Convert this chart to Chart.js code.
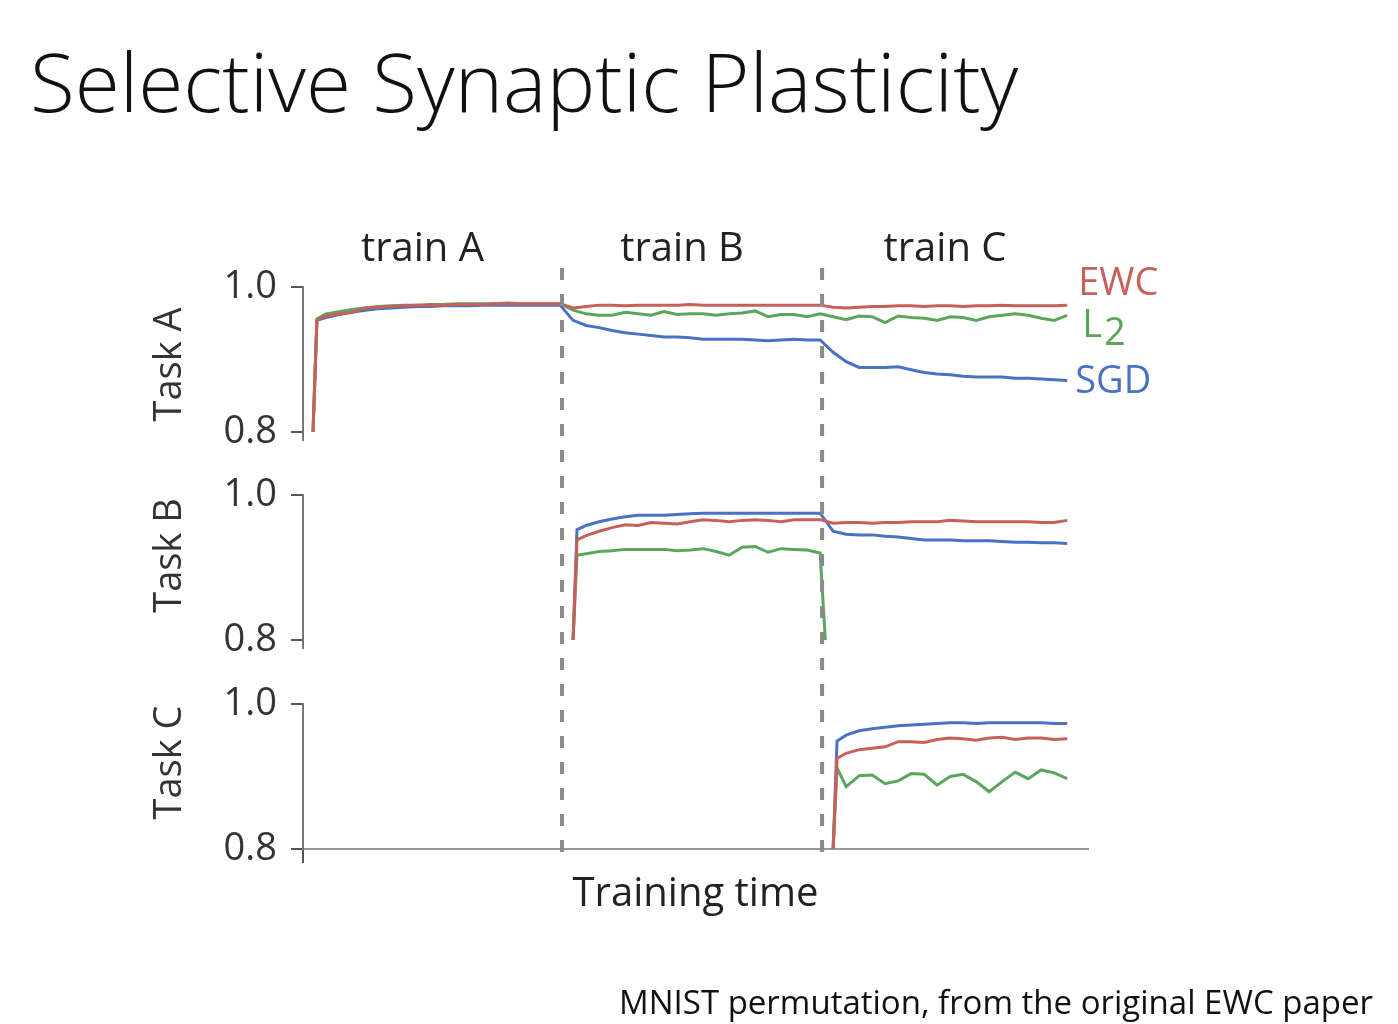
<!DOCTYPE html>
<html>
<head>
<meta charset="utf-8">
<title>Selective Synaptic Plasticity</title>
<script src="https://cdn.jsdelivr.net/npm/chart.js@4.4.0/dist/chart.umd.min.js"></script>
<style>
    body { margin: 0; background: #fff; width: 1398px; height: 1024px; overflow: hidden; position: relative; font-family: 'Open Sans', sans-serif; }
    #titulo { position: absolute; left: 30px; top: 39px; font-size: 82px; line-height: 82px; font-weight: 300; color: #111; white-space: nowrap; }
    #pie { position: absolute; right: 25px; top: 985px; font-size: 33px; line-height: 33px; color: #111; white-space: nowrap; }
    #grafica { position: absolute; left: 0; top: 0; }
</style>
</head>
<body>
<div id="titulo">Selective Synaptic Plasticity</div>
<canvas id="grafica" width="1398" height="1024"></canvas>
<div id="pie">MNIST permutation, from the original EWC paper</div>

<script>
// 1. DATOS
const phaseNames = ['train A', 'train B', 'train C'];
const phaseEdges = [19.15, 39.15];
const taskNames = ['Task A', 'Task B', 'Task C'];
const yTicks = [0.8, 1.0];

const stepsA = [0, 0.3, 1, 2, 3, 4, 5, 6, 7, 8, 9, 10, 11, 12, 13, 14, 15, 16, 17, 18, 19,
    20, 21, 22, 23, 24, 25, 26, 27, 28, 29, 30, 31, 32, 33, 34, 35, 36, 37, 38, 39,
    40, 41, 42, 43, 44, 45, 46, 47, 48, 49, 50, 51, 52, 53, 54, 55, 56, 57, 58];
const stepsB = [20, 20.3, 21, 22, 23, 24, 25, 26, 27, 28, 29, 30, 31, 32, 33, 34, 35, 36, 37, 38, 39, 39.4,
    40, 41, 42, 43, 44, 45, 46, 47, 48, 49, 50, 51, 52, 53, 54, 55, 56, 57, 58];
const stepsC = [40, 40.3, 41, 42, 43, 44, 45, 46, 47, 48, 49, 50, 51, 52, 53, 54, 55, 56, 57, 58];

const taskA_EWC = [0.800, 0.954, 0.960, 0.963, 0.965, 0.971, 0.972, 0.973, 0.974, 0.975, 0.975, 0.975, 0.976, 0.976, 0.976, 0.977, 0.977, 0.977, 0.977, 0.977, 0.977,
    0.971, 0.973, 0.975, 0.975, 0.974, 0.975, 0.975, 0.975, 0.975, 0.976, 0.975, 0.975, 0.975, 0.975, 0.975, 0.975, 0.975, 0.975, 0.975, 0.975,
    0.972, 0.971, 0.972, 0.973, 0.973, 0.974, 0.974, 0.973, 0.974, 0.974, 0.973, 0.974, 0.974, 0.975, 0.974, 0.974, 0.974, 0.974, 0.975];
const taskA_L2 = [0.800, 0.956, 0.963, 0.966, 0.969, 0.971, 0.973, 0.974, 0.975, 0.975, 0.976, 0.976, 0.977, 0.977, 0.977, 0.977, 0.978, 0.977, 0.977, 0.977, 0.977,
    0.968, 0.963, 0.961, 0.961, 0.965, 0.963, 0.961, 0.966, 0.962, 0.963, 0.963, 0.961, 0.963, 0.964, 0.967, 0.959, 0.962, 0.962, 0.959, 0.963,
    0.959, 0.955, 0.960, 0.959, 0.951, 0.960, 0.958, 0.957, 0.954, 0.959, 0.958, 0.954, 0.959, 0.961, 0.963, 0.961, 0.957, 0.954, 0.961];
const taskA_SGD = [0.800, 0.954, 0.958, 0.962, 0.965, 0.968, 0.970, 0.971, 0.972, 0.973, 0.973, 0.974, 0.974, 0.974, 0.975, 0.975, 0.975, 0.975, 0.975, 0.975, 0.975,
    0.954, 0.947, 0.944, 0.940, 0.937, 0.935, 0.933, 0.931, 0.931, 0.930, 0.928, 0.928, 0.928, 0.928, 0.927, 0.926, 0.927, 0.928, 0.927, 0.927,
    0.910, 0.897, 0.889, 0.889, 0.889, 0.890, 0.886, 0.882, 0.880, 0.879, 0.877, 0.876, 0.876, 0.876, 0.874, 0.874, 0.873, 0.872, 0.871];

const taskB_EWC = [0.800, 0.938, 0.944, 0.950, 0.955, 0.959, 0.958, 0.962, 0.961, 0.960, 0.963, 0.966, 0.965, 0.963, 0.965, 0.966, 0.965, 0.963, 0.966, 0.966, 0.966, null,
    0.961, 0.962, 0.962, 0.961, 0.962, 0.962, 0.963, 0.963, 0.963, 0.965, 0.964, 0.963, 0.963, 0.963, 0.963, 0.963, 0.962, 0.962, 0.965];
const taskB_L2 = [0.800, 0.917, 0.919, 0.922, 0.923, 0.925, 0.925, 0.925, 0.925, 0.923, 0.924, 0.926, 0.922, 0.917, 0.928, 0.929, 0.921, 0.926, 0.925, 0.924, 0.920, 0.800];
const taskB_SGD = [0.800, 0.952, 0.958, 0.963, 0.967, 0.970, 0.972, 0.972, 0.972, 0.973, 0.974, 0.975, 0.975, 0.975, 0.975, 0.975, 0.975, 0.975, 0.975, 0.975, 0.975, null,
    0.950, 0.946, 0.945, 0.945, 0.943, 0.942, 0.940, 0.938, 0.938, 0.938, 0.937, 0.937, 0.937, 0.936, 0.935, 0.935, 0.934, 0.934, 0.933];

const taskC_EWC = [0.800, 0.925, 0.932, 0.937, 0.939, 0.941, 0.948, 0.948, 0.947, 0.951, 0.953, 0.952, 0.950, 0.953, 0.954, 0.951, 0.953, 0.953, 0.951, 0.952];
const taskC_L2 = [0.800, 0.912, 0.886, 0.901, 0.902, 0.890, 0.894, 0.904, 0.903, 0.888, 0.900, 0.903, 0.893, 0.879, 0.893, 0.906, 0.897, 0.909, 0.905, 0.897];
const taskC_SGD = [0.800, 0.949, 0.957, 0.963, 0.966, 0.968, 0.970, 0.971, 0.972, 0.973, 0.974, 0.974, 0.973, 0.974, 0.974, 0.974, 0.974, 0.974, 0.973, 0.973];

const colorEWC = '#c8605a';
const colorL2 = '#5ca65c';
const colorSGD = '#4a72c4';

Chart.defaults.font.family = "'Open Sans', sans-serif";


// 2. SERIES
function serie(steps, values, color, axis) {
    return {
        data: steps.map((t, i) => ({ x: t, y: values[i] === undefined ? null : values[i] })),
        yAxisID: axis,
        borderColor: color,
        borderWidth: 3,
        pointRadius: 0,
        tension: 0,
        spanGaps: true,
        fill: false
    };
}

// EWC primero para que quede encima
const datasets = [
    serie(stepsA, taskA_EWC, colorEWC, 'yA'),
    serie(stepsB, taskB_EWC, colorEWC, 'yB'),
    serie(stepsC, taskC_EWC, colorEWC, 'yC'),
    serie(stepsA, taskA_L2, colorL2, 'yA'),
    serie(stepsB, taskB_L2, colorL2, 'yB'),
    serie(stepsC, taskC_L2, colorL2, 'yC'),
    serie(stepsA, taskA_SGD, colorSGD, 'yA'),
    serie(stepsB, taskB_SGD, colorSGD, 'yB'),
    serie(stepsC, taskC_SGD, colorSGD, 'yC')
];


// 3. EJES APILADOS (un panel por tarea, separados por ejes vacios)
function ejeTarea(lo, peso, orden) {
    return {
        type: 'linear', position: 'left', stack: 'tareas', stackWeight: peso, weight: orden,
        min: lo, max: 1.0,
        afterBuildTicks: s => { s.ticks = yTicks.map(v => ({ value: v })); },
        afterFit: s => { s.width = 203; },
        ticks: { callback: v => v.toFixed(1), font: { size: 38 }, color: '#333', padding: 14 },
        grid: { drawOnChartArea: false, drawTicks: true, tickLength: 12, tickColor: '#555', lineWidth: 2 },
        border: { display: true, color: '#777', width: 2 }
    };
}

function ejeHueco(peso, orden) {
    return {
        type: 'linear', position: 'left', stack: 'tareas', stackWeight: peso, weight: orden,
        ticks: { display: false }, grid: { display: false }, border: { display: false }
    };
}


// 4. ETIQUETAS Y LINEAS DE FASE
const anotaciones = {
    id: 'anotaciones',
    afterDatasetsDraw(chart) {
        const { ctx, chartArea, scales } = chart;
        const x = scales.x, yA = scales.yA;
        ctx.save();

        // lineas discontinuas entre fases
        ctx.strokeStyle = '#8a8a8a';
        ctx.lineWidth = 4;
        ctx.setLineDash([12, 14]);
        phaseEdges.forEach(b => {
            const px = x.getPixelForValue(b);
            ctx.beginPath();
            ctx.moveTo(px, chartArea.top - 19);
            ctx.lineTo(px, chartArea.bottom + 3);
            ctx.stroke();
        });
        ctx.setLineDash([]);

        // nombres de fase arriba
        ctx.font = "40px 'Open Sans'";
        ctx.fillStyle = '#222';
        ctx.textAlign = 'center';
        ctx.textBaseline = 'middle';
        const bordes = [x.min, ...phaseEdges, x.max];
        phaseNames.forEach((n, i) => {
            const cx = (x.getPixelForValue(bordes[i]) + x.getPixelForValue(bordes[i + 1])) / 2 - 10;
            ctx.fillText(n, cx, chartArea.top - 37);
        });

        // titulos de cada panel (girados)
        ctx.font = "38px 'Open Sans'";
        ctx.fillStyle = '#333';
        const desplaz = [5, -12, -14];
        ['yA', 'yB', 'yC'].forEach((id, i) => {
            const s = scales[id];
            const cy = (s.getPixelForValue(yTicks[0]) + s.getPixelForValue(yTicks[1])) / 2 + desplaz[i];
            ctx.save();
            ctx.translate(170, cy);
            ctx.rotate(-Math.PI / 2);
            ctx.fillText(taskNames[i], 0, 0);
            ctx.restore();
        });

        // etiquetas de metodo al final de Task A
        const last = stepsA.length - 1;
        const endX = x.getPixelForValue(stepsA[last]);
        ctx.textAlign = 'left';

        ctx.fillStyle = colorEWC;
        ctx.fillText('EWC', endX + 11, yA.getPixelForValue(taskA_EWC[last]) - 21);

        ctx.fillStyle = colorL2;
        const yL = yA.getPixelForValue(taskA_L2[last]) + 11;
        ctx.fillText('L', endX + 15, yL);
        ctx.fillText('2', endX + 15 + ctx.measureText('L').width + 2, yL + 8);

        ctx.fillStyle = colorSGD;
        ctx.fillText('SGD', endX + 8, yA.getPixelForValue(taskA_SGD[last]) + 2);

        ctx.restore();
    }
};


// 5. GRAFICA
const xMin = -0.77, xMax = 59.6;

new Chart(document.getElementById('grafica'), {
    type: 'line',
    data: { datasets: datasets },
    options: {
        responsive: false,
        animation: false,
        events: [],
        layout: { padding: { left: 100, right: 310, top: 287, bottom: 105 } },
        plugins: { legend: { display: false }, tooltip: { enabled: false } },
        scales: {
            x: {
                type: 'linear', position: 'bottom', min: xMin, max: xMax,
                afterBuildTicks: s => { s.ticks = [{ value: xMin }]; },
                afterFit: s => { s.height = 70; },
                ticks: { callback: () => '', padding: 0 },
                grid: { drawOnChartArea: false, drawTicks: true, tickLength: 14, tickColor: '#555', lineWidth: 2 },
                border: { display: true, color: '#999', width: 2 },
                title: { display: true, text: 'Training time', font: { size: 40 }, color: '#222', padding: { top: 0, bottom: 0 } }
            },
            yA: ejeTarea(0.789, 153, 5),
            hueco1: ejeHueco(55, 4),
            yB: ejeTarea(0.789, 153, 3),
            hueco2: ejeHueco(56, 2),
            yC: ejeTarea(0.8, 145, 1)
        }
    },
    plugins: [anotaciones]
});
</script>
</body>
</html>
